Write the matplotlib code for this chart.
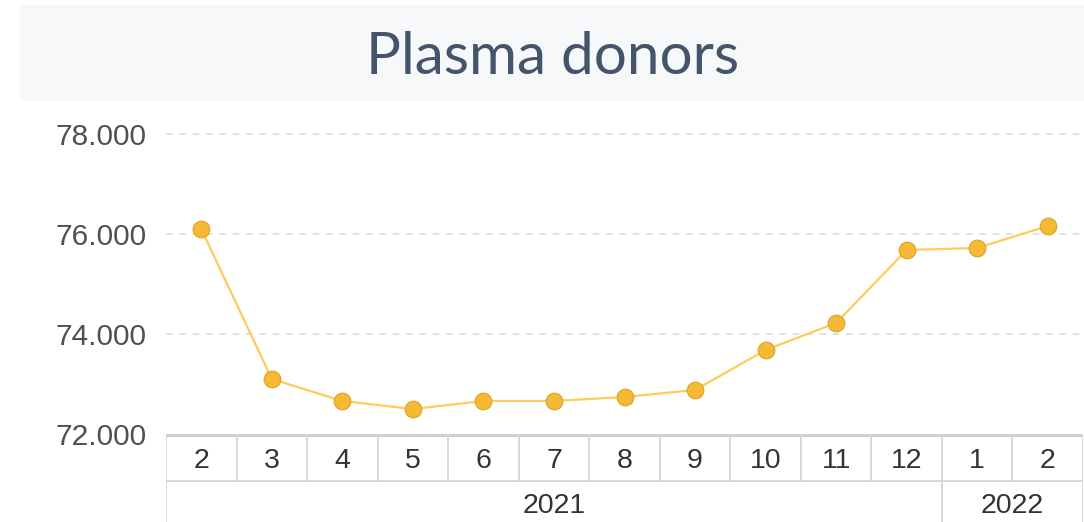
import matplotlib
matplotlib.use("Agg")
import matplotlib.pyplot as plt
import matplotlib.patches as patches

months = ["2", "3", "4", "5", "6", "7", "8", "9", "10", "11", "12", "1", "2"]
years = ["2021", "2022"]
year_span = [11, 2]  # how many months belong to each year
donors = [76100, 73100, 72660, 72500, 72660, 72660, 72740, 72880, 73680, 74220, 75680, 75720, 76160]
yticks = [72000, 74000, 76000, 78000]

W, H = 1084, 522
fig = plt.figure(figsize=(W / 100, H / 100), dpi=100)
fig.patch.set_facecolor("white")

# title band
band = patches.Rectangle((20 / W, 1 - 101 / H), 1 - 20 / W, 96 / H, transform=fig.transFigure,
                         facecolor="#f7f8f9", edgecolor="none")
fig.patches.append(band)
fig.text(553 / W, 1 - 58 / H, "Plasma donors", ha="center", va="center",
         fontsize=42, color="#44546a", family="Lato")

# main plot area
left, right = 166 / W, 1083 / W
ax = fig.add_axes([left, 1 - 434 / H, right - left, (434 - 110) / H])
x = list(range(len(months)))
ax.plot(x, donors, color="#ffcb5c", linewidth=1.6, zorder=2)
ax.plot(x, donors, linestyle="none", marker="o", markersize=12,
        markerfacecolor="#f6b935", markeredgecolor="#dba326", markeredgewidth=0.8, zorder=3)
ax.set_xlim(-0.5, len(months) - 0.5)
ax.set_ylim(72000, 72000 + (434 - 110) * 20)
ax.set_yticks(yticks)
ax.set_yticklabels([f"{v:,}".replace(",", ".") for v in yticks], fontsize=21.5,
                   color="#505050", family="Liberation Sans")
ax.tick_params(axis="y", length=0, pad=14)
ax.set_xticks([])
for v in yticks[1:]:
    ax.axhline(v, color="#dcdcdc", linewidth=1.2, linestyle=(0, (4, 4)), zorder=1)
for s in ax.spines.values():
    s.set_visible(False)

# category table under the plot
tab = fig.add_axes([left, 0, right - left, (522 - 434) / H])
tab.set_xlim(-0.5, len(months) - 0.5)
tab.set_ylim(88, 0)
tab.axis("off")
line_kw = dict(color="#d6d6d6", linewidth=1.3)
tab.axhline(1, color="#d0d0d0", linewidth=2.2)
tab.axhline(47, **line_kw)
for i in range(len(months) + 1):
    tab.plot([i - 0.5, i - 0.5], [0, 47], **line_kw)
for i, m in enumerate(months):
    tab.text(i, 27, m, ha="center", va="center", fontsize=20.5, color="#333333",
             family="Liberation Sans")
start = 0
for yr, n in zip(years, year_span):
    tab.plot([start - 0.5, start - 0.5], [47, 88], **line_kw)
    tab.text(start + (n - 1) / 2, 72, yr, ha="center", va="center", fontsize=20.5,
             color="#333333", family="Liberation Sans")
    start += n
tab.plot([start - 0.5, start - 0.5], [47, 88], **line_kw)

fig.savefig("out.png", dpi=100, facecolor=fig.get_facecolor())
